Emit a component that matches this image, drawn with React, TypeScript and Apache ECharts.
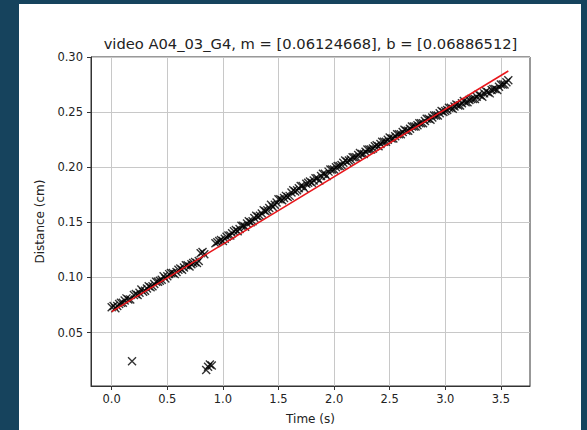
import React, { useEffect, useRef } from "react";
import * as echarts from "echarts";

const titleText = "video A04_03_G4, m = [0.06124668], b = [0.06886512]";
const xName = "Time (s)";
const yName = "Distance (cm)";

// frames (even)
const times = [
  0.0, 0.033, 0.067, 0.1, 0.133, 0.167, 0.183, 0.2, 0.233, 0.267, 0.3, 0.333, 0.367, 0.4, 0.433, 0.467,
  0.5, 0.533, 0.567, 0.6, 0.633, 0.667, 0.7, 0.733, 0.767, 0.8, 0.833, 0.85, 0.867, 0.883, 0.9,
  0.933, 0.967, 1.0, 1.033, 1.067, 1.1, 1.133, 1.167, 1.2, 1.233, 1.267, 1.3, 1.333, 1.367, 1.4,
  1.433, 1.467, 1.5, 1.533, 1.567, 1.6, 1.633, 1.667, 1.7, 1.733, 1.767, 1.8, 1.833, 1.867, 1.9,
  1.933, 1.967, 2.0, 2.033, 2.067, 2.1, 2.133, 2.167, 2.2, 2.233, 2.267, 2.3, 2.333, 2.367, 2.4,
  2.433, 2.467, 2.5, 2.533, 2.567, 2.6, 2.633, 2.667, 2.7, 2.733, 2.767, 2.8, 2.833, 2.867, 2.9,
  2.933, 2.967, 3.0, 3.033, 3.067, 3.1, 3.133, 3.167, 3.2, 3.233, 3.267, 3.3, 3.333, 3.367, 3.4,
  3.433, 3.467, 3.5, 3.533, 3.567,
];
const distances = [
  0.073, 0.072, 0.076, 0.077, 0.081, 0.08, 0.024, 0.084, 0.084, 0.089, 0.088, 0.092, 0.092, 0.096, 0.097, 0.101,
  0.101, 0.104, 0.103, 0.107, 0.107, 0.111, 0.11, 0.113, 0.113, 0.122, 0.121, 0.016, 0.019, 0.021, 0.02,
  0.131, 0.133, 0.133, 0.137, 0.138, 0.142, 0.142, 0.147, 0.146, 0.151, 0.151, 0.156, 0.156, 0.161, 0.161,
  0.166, 0.166, 0.171, 0.17, 0.174, 0.174, 0.179, 0.179, 0.183, 0.181, 0.186, 0.186, 0.19, 0.188, 0.194,
  0.192, 0.198, 0.198, 0.201, 0.202, 0.206, 0.206, 0.209, 0.209, 0.213, 0.212, 0.216, 0.216, 0.219, 0.219,
  0.223, 0.223, 0.227, 0.226, 0.23, 0.23, 0.234, 0.233, 0.237, 0.237, 0.24, 0.24, 0.244, 0.243, 0.247,
  0.247, 0.251, 0.251, 0.254, 0.253, 0.257, 0.256, 0.26, 0.259, 0.262, 0.262, 0.266, 0.264, 0.269, 0.267,
  0.271, 0.27, 0.275, 0.275, 0.279,
];

// frames (odd)
const midTimes = [
  0.017, 0.05, 0.083, 0.117, 0.15, 0.217, 0.25, 0.283, 0.317, 0.35, 0.383, 0.417, 0.45, 0.483,
  0.517, 0.55, 0.583, 0.617, 0.65, 0.683, 0.717, 0.75, 0.783, 0.817,
  0.95, 0.983, 1.017, 1.05, 1.083, 1.117, 1.15, 1.183, 1.217, 1.25, 1.283, 1.317, 1.35, 1.383, 1.417,
  1.45, 1.483, 1.517, 1.55, 1.583, 1.617, 1.65, 1.683, 1.717, 1.75, 1.783, 1.817, 1.85, 1.883, 1.917,
  1.95, 1.983, 2.017, 2.05, 2.083, 2.117, 2.15, 2.183, 2.217, 2.25, 2.283, 2.317, 2.35, 2.383, 2.417,
  2.45, 2.483, 2.517, 2.55, 2.583, 2.617, 2.65, 2.683, 2.717, 2.75, 2.783, 2.817, 2.85, 2.883, 2.917,
  2.95, 2.983, 3.017, 3.05, 3.083, 3.117, 3.15, 3.183, 3.217, 3.25, 3.283, 3.317, 3.35, 3.383, 3.417,
  3.45, 3.483, 3.517, 3.55,
];
const midDistances = [
  0.074, 0.074, 0.077, 0.079, 0.08, 0.085, 0.086, 0.087, 0.09, 0.091, 0.094, 0.096, 0.098, 0.099,
  0.103, 0.104, 0.105, 0.108, 0.109, 0.111, 0.112, 0.114, 0.115, 0.123,
  0.132, 0.134, 0.135, 0.138, 0.14, 0.143, 0.144, 0.147, 0.149, 0.15, 0.154, 0.155, 0.158, 0.16, 0.163,
  0.164, 0.168, 0.171, 0.172, 0.173, 0.177, 0.178, 0.181, 0.183, 0.185, 0.187, 0.188, 0.19, 0.192, 0.194,
  0.196, 0.198, 0.2, 0.201, 0.204, 0.205, 0.207, 0.209, 0.211, 0.212, 0.214, 0.216, 0.217, 0.22, 0.221,
  0.223, 0.225, 0.226, 0.228, 0.23, 0.232, 0.233, 0.235, 0.237, 0.238, 0.24, 0.242, 0.244, 0.245, 0.247,
  0.249, 0.25, 0.252, 0.254, 0.255, 0.256, 0.258, 0.259, 0.261, 0.262, 0.264, 0.265, 0.267, 0.268, 0.27,
  0.271, 0.273, 0.275, 0.277,
];

const fitTimes = [0.0, 3.567];
const fitDistances = [0.0689, 0.2873];

const xTicks = [0.0, 0.5, 1.0, 1.5, 2.0, 2.5, 3.0, 3.5];
const yTicks = [0.05, 0.1, 0.15, 0.2, 0.25, 0.3];

const FONT = "DejaVu Sans";
const TEXT = "#222";

export default function App() {
  const ref = useRef<HTMLDivElement>(null);
  useEffect(() => {
    document.body.style.margin = "0";
    const chart = echarts.init(ref.current!, null, { renderer: "svg" });
    const scatterData = times
      .map((t, i) => [t, distances[i]])
      .concat(midTimes.map((t, i) => [t, midDistances[i]]));
    const fitData = fitTimes.map((t, i) => [t, fitDistances[i]]);
    chart.setOption({
      animation: false,
      backgroundColor: "#16435d",
      textStyle: { fontFamily: FONT },
      graphic: [
        {
          type: "rect",
          z: -10,
          silent: true,
          shape: { x: 19, y: 4, width: 562, height: 430 },
          style: { fill: "#ffffff" },
        },
        {
          type: "text",
          x: 310.5,
          y: 43.5,
          style: {
            text: titleText,
            fill: TEXT,
            font: `14.7px "${FONT}"`,
            textAlign: "center",
            textVerticalAlign: "middle",
          },
        },
      ],
      grid: {
        left: 91,
        top: 57,
        right: 57,
        bottom: 44,
        show: true,
        borderColor: "#333",
        borderWidth: 1,
        backgroundColor: "transparent",
      },
      xAxis: {
        type: "value",
        min: -0.186,
        max: 3.762,
        name: xName,
        nameLocation: "middle",
        nameGap: 27,
        nameTextStyle: { fontFamily: FONT, fontSize: 12, color: TEXT },
        axisLine: { show: true, onZero: false, lineStyle: { color: "#333" } },
        axisTick: { show: true, length: 4, customValues: xTicks, lineStyle: { color: "#333" } },
        axisLabel: {
          customValues: xTicks,
          margin: 7,
          fontFamily: FONT,
          fontSize: 11.5,
          color: TEXT,
          formatter: (v: number) => v.toFixed(1),
        },
        splitLine: { show: true, lineStyle: { color: "#c8c8c8", width: 1 } },
      },
      yAxis: {
        type: "value",
        min: 0.0015,
        max: 0.3,
        name: yName,
        nameLocation: "middle",
        nameGap: 43,
        nameTextStyle: { fontFamily: FONT, fontSize: 12, color: TEXT },
        axisLine: { show: true, onZero: false, lineStyle: { color: "#333" } },
        axisTick: { show: true, length: 4, customValues: yTicks, lineStyle: { color: "#333" } },
        axisLabel: {
          customValues: yTicks,
          margin: 8,
          fontFamily: FONT,
          fontSize: 11.5,
          color: TEXT,
          formatter: (v: number) => v.toFixed(2),
        },
        splitLine: { show: true, lineStyle: { color: "#c8c8c8", width: 1 } },
      },
      series: [
        {
          type: "scatter",
          data: scatterData,
          symbol: "path://M0,0L10,10M10,0L0,10",
          symbolSize: 8,
          itemStyle: { color: "rgba(0,0,0,0)", borderColor: "#000", borderWidth: 1.4 },
          z: 2,
        },
        {
          type: "line",
          data: fitData,
          showSymbol: false,
          symbol: "none",
          lineStyle: { color: "#e8161b", width: 1.5 },
          z: 3,
        },
      ],
    });
    return () => chart.dispose();
  }, []);
  return (
    <div
      ref={ref}
      style={{ position: "absolute", left: 0, top: 0, width: 587, height: 430 }}
    />
  );
}
